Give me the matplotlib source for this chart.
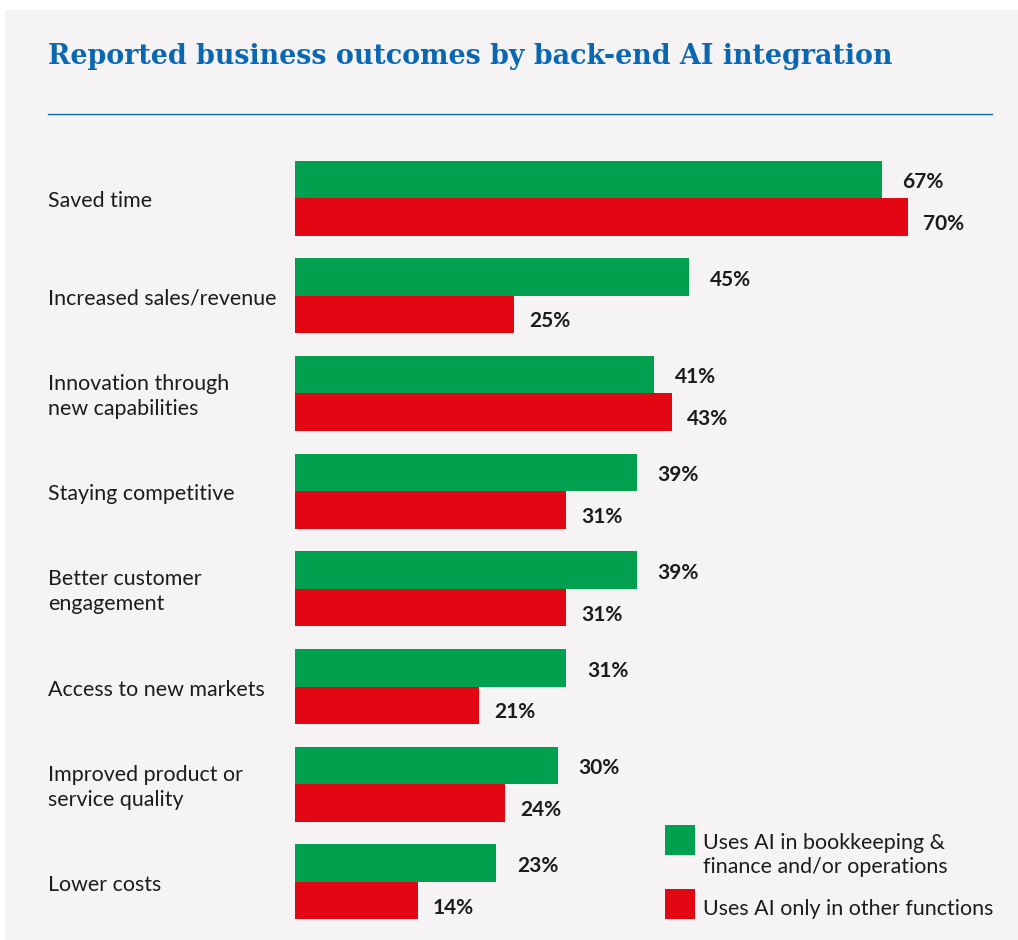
import matplotlib.pyplot as plt
from matplotlib.patches import Rectangle

# Dados do grafico
categorias = ['Saved time', 'Increased sales/revenue', 'Innovation through\nnew capabilities',
              'Staying competitive', 'Better customer\nengagement', 'Access to new markets',
              'Improved product or\nservice quality', 'Lower costs']
backend = [67, 45, 41, 39, 39, 31, 30, 23]
outras = [70, 25, 43, 31, 31, 21, 24, 14]
legendas = ['Uses AI in bookkeeping &\nfinance and/or operations', 'Uses AI only in other functions']

verde = '#00a04e'
vermelho = '#e30613'
azul = '#0a67b2'
texto = '#1c1c1c'
fundo = '#f5f3f4'

W, H = 1018, 940
fig = plt.figure(figsize=(W / 100, H / 100), dpi=100, facecolor='white')

# painel cinza de fundo
fig.add_artist(Rectangle((5 / W, 0), 1 - 5 / W, 1 - 10 / H, transform=fig.transFigure,
                         facecolor=fundo, edgecolor='none', zorder=0))

# titulo e linha
fig.text(48 / W, 1 - 56 / H, 'Reported business outcomes by back-end AI integration',
         family='DejaVu Serif', weight='bold', fontsize=19.4, color=azul, va='center')
fig.add_artist(plt.Line2D([48 / W, 992 / W], [1 - 114 / H, 1 - 114 / H],
                          transform=fig.transFigure, color=azul, lw=1.0))

# eixo das barras
escala = 8.757  # pixels por ponto percentual
passo = 97.7
topo = 198 - passo / 2
base = 882 + passo / 2
ax = fig.add_axes([295 / W, 1 - base / H, 700 / W, (base - topo) / H])
ax.set_facecolor('none')
ax.set_xlim(0, 700 / escala)
ax.set_ylim(len(categorias) - 0.5, -0.5)
ax.axis('off')

h = 37.5 / passo
y = list(range(len(categorias)))
ax.barh([i - h / 2 for i in y], backend, height=h, color=verde)
ax.barh([i + h / 2 for i in y], outras, height=h, color=vermelho)

for i in y:
    ax.annotate(f'{backend[i]}%', (backend[i], i - h / 2), xytext=(15, -2), textcoords='offset points',
                family='Lato', weight='bold', fontsize=15, color=texto, va='center')
    ax.annotate(f'{outras[i]}%', (outras[i], i + h / 2), xytext=(11, -5), textcoords='offset points',
                family='Lato', weight='bold', fontsize=15, color=texto, va='center')
    ax.annotate(categorias[i], (0, i), xytext=(-247, -3), textcoords='offset pixels',
                family='Lato', fontsize=15.4, color=texto, va='center', ha='left', linespacing=1.3)

# legenda
for k, (cor, yy) in enumerate([(verde, 825), (vermelho, 889)]):
    fig.add_artist(Rectangle((665 / W, 1 - (yy + 30) / H), 30 / W, 30 / H, transform=fig.transFigure,
                             facecolor=cor, edgecolor='none'))
fig.text(703 / W, 1 - 855 / H, legendas[0], family='Lato', fontsize=15.4, color=texto,
         va='center', linespacing=1.28)
fig.text(703 / W, 1 - 909 / H, legendas[1], family='Lato', fontsize=15.4, color=texto, va='center')

plt.savefig('out.png', dpi=100, facecolor='white')
